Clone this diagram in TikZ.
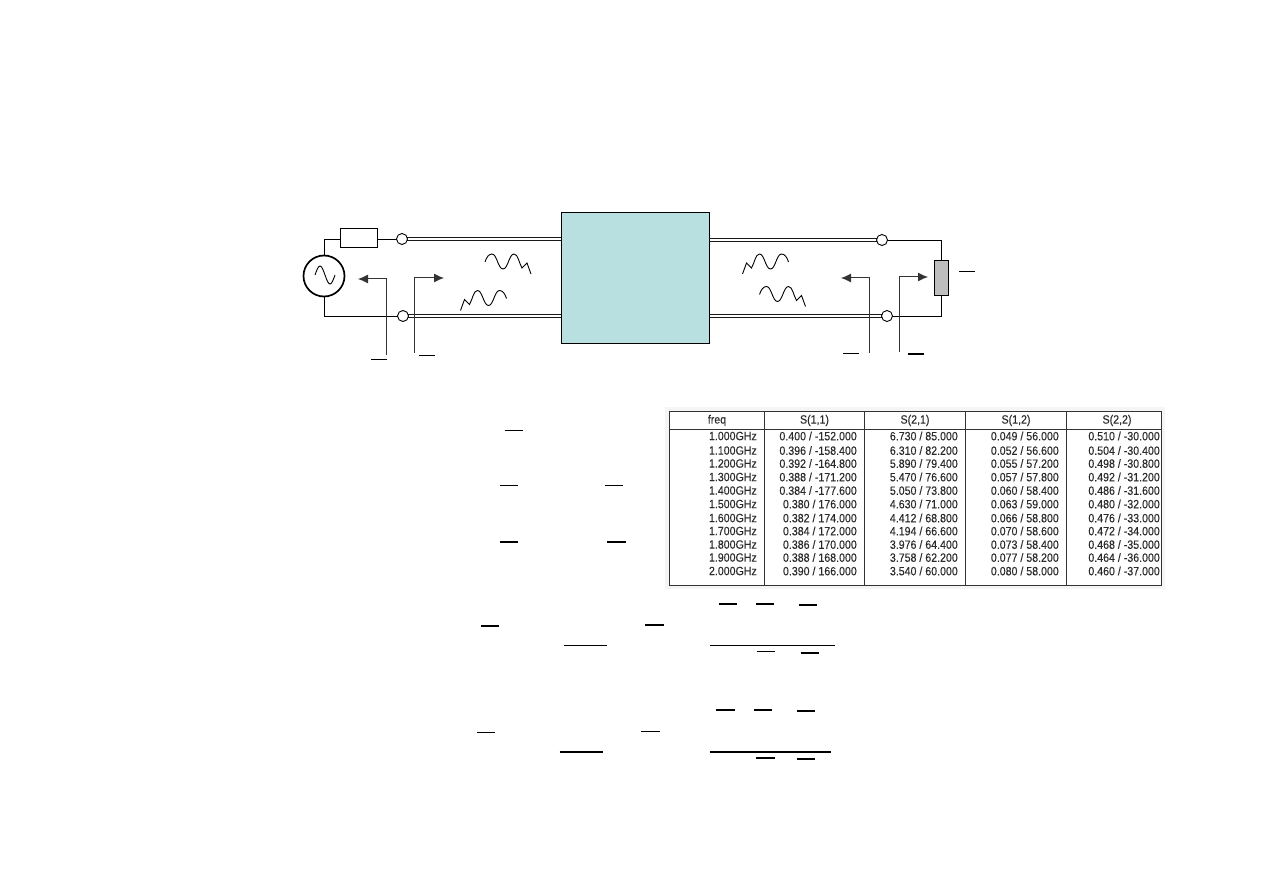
\documentclass[tikz,border=0pt]{standalone}
\usepackage{fontspec}
\setmainfont{Liberation Sans}
\newfontfamily\tabfont[FakeStretch=.885,FakeBold=.12]{Liberation Sans}
\usetikzlibrary{arrows.meta,calc}
\definecolor{twoport}{HTML}{B9E0E0}
\definecolor{loadgray}{HTML}{BEBEBE}
\definecolor{tabink}{HTML}{2A2A2A}
\tikzset{
  % thin wiring and the two-conductor feed lines
  wire/.style={draw=black, line width=.9pt},
  feedtop/.style={draw=black!90, line width=1pt},
  feedbot/.style={draw=black!90, line width=1.3pt},
  port/.style={draw=black, circle, fill=white, line width=.9pt, minimum size=11pt, inner sep=0pt},
  refl/.style={draw=black!80, line width=1pt, -{Latex[length=10pt,width=9pt]}},
  ovl/.style={draw=black, line cap=butt},
  cell/.style={font=\tabfont\fontsize{12}{13}\selectfont, text=tabink, inner sep=0pt, anchor=east},
  headcell/.style={font=\tabfont\fontsize{12}{13}\selectfont, text=tabink, inner sep=0pt},
  tabrule/.style={draw=black!80, line width=1pt},
  % travelling wave with a bent tip
  wave/.pic={
    \draw[line width=.9pt] (0,0) .. controls (1.5,-5) and (4,-8) .. (7,-8)
      .. controls (12,-8) and (13,7) .. (18,7)
      .. controls (23,7) and (24,-8) .. (29,-8)
      .. controls (33,-8) and (34,1) .. (37,6) -- (42,1) -- (46,12);
  },
}
% a feed line: two conductors side by side
\newcommand{\feedpair}[3]{%
  \draw[#1] ([yshift=-1.2pt]#2) -- ([yshift=-1.2pt]#3);
  \draw[#1] ([yshift=1.2pt]#2) -- ([yshift=1.2pt]#3);}
% one row of the S-parameter listing
\newcommand{\srow}[6]{%
  \node[cell] (f#1) at (757,#1) {#2};
  \node[cell] (a#1) at (857,#1) {#3};
  \node[cell] (b#1) at (958,#1) {#4};
  \node[cell] (c#1) at (1059,#1) {#5};
  \node[cell] (d#1) at (1160,#1) {#6};}

\begin{document}
\begin{tikzpicture}[x=1pt,y=-1pt]
\useasboundingbox (0,0) rectangle (1263,893);

% ----- two-port block -----
\node[draw=black, fill=twoport, line width=.9pt, minimum width=148pt, minimum height=131pt, inner sep=0pt] (dut) at (635,277.5) {};

% ----- source side -----
\node[draw=black, circle, line width=1.7pt, minimum size=41pt, inner sep=0pt] (src) at (324,276) {};
\draw[line width=.9pt] (315,275) sin (320,266) cos (325,275) sin (330,284) cos (335,275);
\node[draw=black, line width=.9pt, minimum width=37pt, minimum height=19pt, inner sep=0pt] (rs) at (359,237.5) {};
\coordinate (p1top) at (402,239);
\coordinate (p1bot) at (403,316);

% ----- load side -----
\coordinate (p2top) at (882,240);
\coordinate (p2bot) at (887,316);
\node[draw=black, fill=loadgray, line width=.9pt, minimum width=14pt, minimum height=35pt, inner sep=0pt] (zl) at (941.5,277.5) {};

% ----- wiring -----
\draw[wire] (src.north) |- (rs.west |- p1top);
\draw[wire] (rs.east |- p1top) -- (p1top);
\draw[wire] (src.south) |- (p1bot);
\draw[wire] (p2top) -| (zl.north);
\draw[wire] (p2bot) -| (zl.south);
\feedpair{feedtop}{p1top}{dut.west |- p1top}
\feedpair{feedbot}{p1bot}{dut.west |- p1bot}
\feedpair{feedtop}{dut.east |- p2top}{p2top}
\feedpair{feedbot}{dut.east |- p2bot}{p2bot}

% ----- reflection markers -----
\coordinate (g1) at (386.5,355);
\coordinate (g1tip) at (358,279);
\coordinate (g2) at (414.5,353);
\coordinate (g2tip) at (444,278);
\coordinate (g3) at (869,353);
\coordinate (g3tip) at (841,278);
\coordinate (g4) at (899,352);
\coordinate (g4tip) at (928,277);
\draw[refl] (g1) |- (g1tip);
\draw[refl] (g2) |- (g2tip);
\draw[refl] (g3) |- (g3tip);
\draw[refl] (g4) |- (g4tip);

% ----- terminals over the lines -----
\node[port] (t1top) at (p1top) {};
\node[port] (t1bot) at (p1bot) {};
\node[port] (t2top) at (p2top) {};
\node[port] (t2bot) at (p2bot) {};

% ----- waves on the lines -----
\pic at (485,262) {wave};
\pic[xscale=-1] at (506.5,298.5) {wave};
\pic[xscale=-1] at (788.5,262) {wave};
\pic at (759.5,294.5) {wave};

% ----- bars over the symbols: from, to, y, width -----
\foreach \xa/\xb/\yy/\lw in {
  371/387/359.5/1.1, 419/435/355.5/1.1, 843/859/353.5/1.1, 908/924/354/2, 959/975/271.5/1.1,
  504.5/523/430.5/1.2, 500/518/485.5/1.2, 604.5/623/485.5/1.2, 500/518/542/2, 607/625.5/542/2,
  718.5/736.5/604/2, 756/774/604/2, 798.5/816.5/605/2,
  481/499/626/2, 645/663.5/625/2,
  563.5/606.5/645.5/1.2, 710/835/645.5/1.2, 756.5/774.5/651.5/1.1, 800.5/819/653/2,
  716/734.5/710/2, 753.5/772/710/2, 796.5/815/711/2,
  477/495/732.5/1.1, 641/659.5/731.5/1.1,
  559.5/603/752/2, 709.5/831/752/2, 756/774.5/758/2, 796.5/815/759/2}
  \draw[ovl, line width=\lw pt] (\xa,\yy) -- (\xb,\yy);

% ----- S-parameter listing -----
\fill[black!4] (665,407) rectangle (1165,589);
\fill[white] (669,411) rectangle (1162,585);
\draw[tabrule] (669.5,411) rectangle (1161.5,585);
\draw[tabrule] (669.5,429) -- (1161.5,429);
\foreach \xx in {764.5,864.5,965.5,1066.5}
  \draw[tabrule] (\xx,411) -- (\xx,585);
\node[headcell] (hfreq) at (717,420.5) {freq};
\node[headcell] (hs11) at (814.5,420.5) {S(1,1)};
\node[headcell] (hs21) at (915,420.5) {S(2,1)};
\node[headcell] (hs12) at (1016,420.5) {S(1,2)};
\node[headcell] (hs22) at (1117,420.5) {S(2,2)};
\srow{436}{1.000GHz}{0.400 / -152.000}{6.730 / 85.000}{0.049 / 56.000}{0.510 / -30.000}
\srow{450.5}{1.100GHz}{0.396 / -158.400}{6.310 / 82.200}{0.052 / 56.600}{0.504 / -30.400}
\srow{463.5}{1.200GHz}{0.392 / -164.800}{5.890 / 79.400}{0.055 / 57.200}{0.498 / -30.800}
\srow{477}{1.300GHz}{0.388 / -171.200}{5.470 / 76.600}{0.057 / 57.800}{0.492 / -31.200}
\srow{490.5}{1.400GHz}{0.384 / -177.600}{5.050 / 73.800}{0.060 / 58.400}{0.486 / -31.600}
\srow{504}{1.500GHz}{0.380 / 176.000}{4.630 / 71.000}{0.063 / 59.000}{0.480 / -32.000}
\srow{518}{1.600GHz}{0.382 / 174.000}{4.412 / 68.800}{0.066 / 58.800}{0.476 / -33.000}
\srow{531}{1.700GHz}{0.384 / 172.000}{4.194 / 66.600}{0.070 / 58.600}{0.472 / -34.000}
\srow{544.5}{1.800GHz}{0.386 / 170.000}{3.976 / 64.400}{0.073 / 58.400}{0.468 / -35.000}
\srow{557.5}{1.900GHz}{0.388 / 168.000}{3.758 / 62.200}{0.077 / 58.200}{0.464 / -36.000}
\srow{571}{2.000GHz}{0.390 / 166.000}{3.540 / 60.000}{0.080 / 58.000}{0.460 / -37.000}

\end{tikzpicture}
\end{document}
